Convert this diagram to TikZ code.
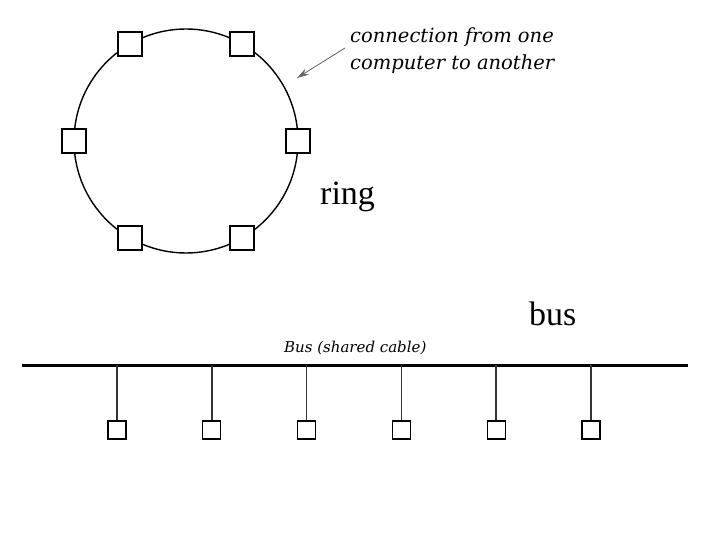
\documentclass[tikz,border=0pt]{standalone}
\usepackage{fontspec}
\setmainfont{Liberation Serif}
\newfontfamily\labelfont{DejaVu Serif}
\usetikzlibrary{arrows.meta,calc}
\begin{document}
\begin{tikzpicture}[x=1pt,y=-1pt,
  ringbox/.style={draw,line width=1.2pt,fill=white,minimum size=24pt,inner sep=0pt},
  busbox/.style={draw,line width=1.1pt,fill=white,minimum size=18pt,inner sep=0pt},
  bigtext/.style={inner sep=0pt,anchor=base west,font=\fontsize{34}{40}\selectfont},
  notetext/.style={inner sep=0pt,anchor=base west,font=\labelfont\itshape\fontsize{19.5}{24}\selectfont},
  stub/.style={line width=1.5pt,draw=black!80}]
\useasboundingbox (0,0) rectangle (720,540);
% ring
\coordinate (rc) at (186,141);
\draw[line width=1.4pt] (rc) circle[radius=112];
\foreach \a/\n in {0/r0,60/r1,120/r2,180/r3,240/r4,300/r5}
  \node[ringbox] (\n) at ($(rc)+(\a:112)$) {};
\node[notetext] (c1) at (350,43) {connection from one};
\node[notetext] (c2) at (350,70) {computer to another};
\coordinate (arrtail) at (345,48);
\coordinate (arrhead) at (297,78);
\draw[draw=black!60,line width=0.8pt,-{Stealth[length=12pt,width=7pt,fill=black!60]}] (arrtail) -- (arrhead);
\node[bigtext] (ring) at (320,205) {ring};
% bus
\node[bigtext] (bus) at (529,325) {bus};
\coordinate (busL) at (22,365);
\coordinate (busR) at (688,365);
\draw[line width=3pt] (busL) -- (busR);
\node[inner sep=0pt,anchor=base west,font=\labelfont\itshape\fontsize{15}{18}\selectfont] (buslabel) at (284,352) {Bus (shared cable)};
\foreach \i in {0,...,5}{
  \node[busbox] (b\i) at ({117+94.8*\i},430) {};
  \coordinate (t\i) at ({117+94.8*\i},365);
  \draw[stub] (t\i) -- (b\i.north);
}
\end{tikzpicture}
\end{document}
